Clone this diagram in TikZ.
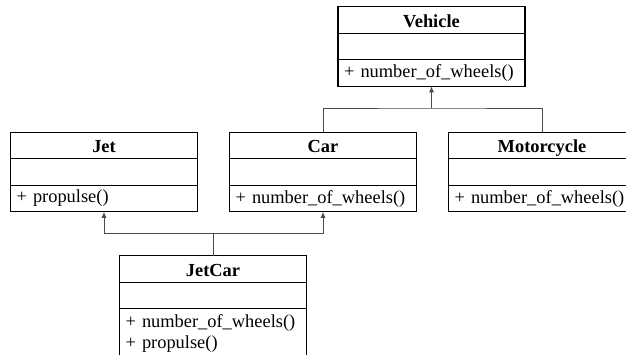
\documentclass[tikz,border=0pt]{standalone}
\usepackage{fontspec}
\setmainfont{Liberation Serif}
\usetikzlibrary{positioning,arrows.meta}

\newcommand{\umlfont}{\fontsize{18.4}{21}\selectfont}

\tikzset{
	classname/.style={draw, line width=1.1pt, minimum width=187pt, minimum height=26.5pt,
		text height=15pt, text depth=1pt,
		inner sep=0pt, outer sep=0pt, font=\umlfont\bfseries},
	classpart/.style={draw, line width=1.1pt, minimum width=187pt, minimum height=26.5pt,
		text width=175pt, align=left, inner sep=0pt, outer sep=0pt, font=\umlfont},
	inherit/.style={draw=black!70, line width=1pt},
}

\begin{document}
\begin{tikzpicture}[x=1pt,y=-1pt]
	\useasboundingbox (0,0) rectangle (626,354);

	% classes
	\node[classname] (vehicle) at (431.5,20) {Vehicle};
	\node[classpart, below=0pt of vehicle] (vehicle-attr) {};
	\node[classpart, below=0pt of vehicle-attr] (vehicle-ops) {+ number\_of\_wheels()};

	\node[classname] (jet) at (104,145.5) {Jet};
	\node[classpart, below=0pt of jet] (jet-attr) {};
	\node[classpart, below=0pt of jet-attr] (jet-ops) {+ propulse()};

	\node[classname] (car) at (323,145.5) {Car};
	\node[classpart, below=0pt of car] (car-attr) {};
	\node[classpart, below=0pt of car-attr] (car-ops) {+ number\_of\_wheels()};

	\node[classname] (moto) at (542,145.5) {Motorcycle};
	\node[classpart, below=0pt of moto] (moto-attr) {};
	\node[classpart, below=0pt of moto-attr] (moto-ops) {+ number\_of\_wheels()};

	\node[classname] (jetcar) at (213,269) {JetCar};
	\node[classpart, below=0pt of jetcar] (jetcar-attr) {};
	\node[classpart, below=0pt of jetcar-attr, minimum height=50pt] (jetcar-ops)
		{+ number\_of\_wheels()\\+ propulse()};

	% inheritance
	\coordinate (upjoin) at (vehicle-ops.south |- 0,108);
	\coordinate (downjoin) at (jetcar.north |- 0,233);
	\draw[inherit] (car.north) |- (upjoin) -| (moto.north);
	\draw[inherit, -{Latex[length=6pt,width=5pt]}] (upjoin) -- (vehicle-ops.south);
	\draw[inherit] (jetcar.north) -- (downjoin);
	\draw[inherit, -{Latex[length=6pt,width=5pt]}] (downjoin) -| (jet-ops.south);
	\draw[inherit, -{Latex[length=6pt,width=5pt]}] (downjoin) -| (car-ops.south);
\end{tikzpicture}
\end{document}
